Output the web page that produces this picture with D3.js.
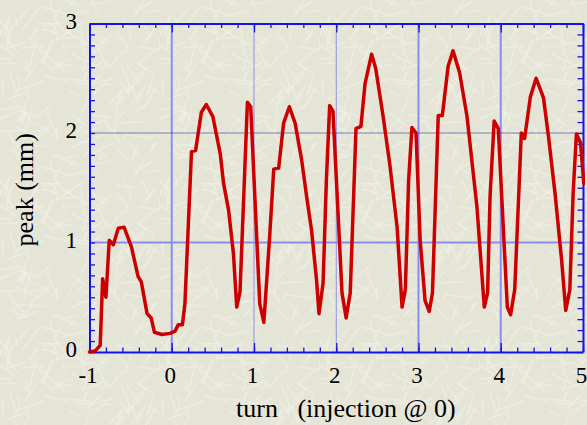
<!DOCTYPE html>
<html>
<head>
<meta charset="utf-8">
<script src="https://cdn.jsdelivr.net/npm/d3@7"></script>
<style>
  html, body { margin: 0; padding: 0; background: #e4e4d5; }
  svg { display: block; }
  text { font-family: "Liberation Serif", "Times New Roman", serif; fill: #000; }
</style>
</head>
<body>
<svg id="chart" width="587" height="425"></svg>
<script>
// data
const turn = [-1.00, -0.93, -0.87, -0.84, -0.80, -0.76, -0.71, -0.65, -0.58, -0.49,
  -0.41, -0.37, -0.30, -0.25, -0.21, -0.12, -0.02, 0.04, 0.08, 0.13,
  0.16, 0.24, 0.29, 0.36, 0.42, 0.50, 0.59, 0.63, 0.69, 0.75,
  0.79, 0.83, 0.92, 0.96, 1.07, 1.12, 1.19, 1.24, 1.30, 1.36,
  1.43, 1.50, 1.58, 1.64, 1.70, 1.76, 1.79, 1.84, 1.88, 1.92,
  1.96, 2.07, 2.12, 2.17, 2.24, 2.30, 2.35, 2.43, 2.48, 2.57,
  2.65, 2.74, 2.80, 2.84, 2.88, 2.92, 2.97, 3.02, 3.08, 3.13,
  3.17, 3.24, 3.29, 3.36, 3.42, 3.50, 3.59, 3.71, 3.80, 3.84,
  3.87, 3.92, 3.97, 4.08, 4.12, 4.17, 4.25, 4.29, 4.36, 4.43,
  4.52, 4.58, 4.66, 4.74, 4.79, 4.84, 4.88, 4.92, 4.97, 5.01];
const peak = [0.00, 0.01, 0.06, 0.67, 0.50, 1.02, 0.98, 1.13, 1.14, 0.96,
  0.69, 0.64, 0.35, 0.31, 0.18, 0.16, 0.17, 0.19, 0.25, 0.25,
  0.44, 1.83, 1.84, 2.19, 2.26, 2.15, 1.81, 1.54, 1.30, 0.90,
  0.41, 0.55, 2.28, 2.24, 0.44, 0.27, 1.05, 1.67, 1.68, 2.09,
  2.24, 2.09, 1.75, 1.42, 1.11, 0.66, 0.35, 0.63, 1.57, 2.25,
  2.20, 0.54, 0.31, 0.54, 2.04, 2.06, 2.45, 2.72, 2.59, 2.15,
  1.72, 1.14, 0.41, 0.57, 1.57, 2.05, 2.00, 1.02, 0.47, 0.37,
  0.54, 2.16, 2.16, 2.61, 2.75, 2.55, 2.15, 1.33, 0.41, 0.54,
  1.42, 2.11, 2.04, 0.41, 0.34, 0.57, 2.00, 1.95, 2.33, 2.50,
  2.32, 1.97, 1.45, 0.84, 0.38, 0.57, 1.45, 1.99, 1.91, 1.54];

const xTicks = [-1, 0, 1, 2, 3, 4, 5];
const yTicks = [0, 1, 2, 3];
const xTitle = 'turn   (injection @ 0)';
const yTitle = 'peak (mm)';

const svg = d3.select('#chart');
const axisColor = '#1414e6';

const x = d3.scaleLinear().domain([-1, 5]).range([89.5, 583]);
const y = d3.scaleLinear().domain([0, 3]).range([352, 23.5]);

//Paper texture background (fixed streak pattern, not data)
function h(n) {
  const s = Math.sin(n * 12.9898 + 78.233) * 43758.5453;
  return s - Math.floor(s);
}

const pat = svg.append('defs').append('pattern')
  .attr('id', 'paper')
  .attr('patternUnits', 'userSpaceOnUse')
  .attr('width', 160)
  .attr('height', 160);

pat.append('rect')
  .attr('width', 160)
  .attr('height', 160)
  .attr('fill', '#e5e5d7');

for (let i = 0; i < 170; i++) {
  const cx = h(i * 4) * 160;
  const cy = h(i * 4 + 1) * 160;
  const a = h(i * 4 + 2) * Math.PI;
  const len = 6 + h(i * 4 + 3) * 22;
  pat.append('line')
    .attr('x1', cx - Math.cos(a) * len / 2)
    .attr('y1', cy - Math.sin(a) * len / 2)
    .attr('x2', cx + Math.cos(a) * len / 2)
    .attr('y2', cy + Math.sin(a) * len / 2)
    .attr('stroke', '#f0f0e6')
    .attr('stroke-width', 1.5)
    .attr('stroke-linecap', 'round')
    .attr('opacity', 0.6);
}

svg.append('rect')
  .attr('width', 587)
  .attr('height', 425)
  .attr('fill', 'url(#paper)');

svg.select('defs').append('clipPath')
  .attr('id', 'plot-clip')
  .append('rect')
  .attr('x', 87)
  .attr('y', 20)
  .attr('width', 498)
  .attr('height', 336);

//Grid lines
const grid = svg.append('g').attr('id', 'grid');

[0, 3, 4].forEach(v => {
  grid.append('line')
    .attr('x1', x(v)).attr('x2', x(v))
    .attr('y1', y(3)).attr('y2', y(0))
    .attr('stroke', '#8c8cf0')
    .attr('stroke-width', 2);
});

[1, 2].forEach(v => {
  grid.append('line')
    .attr('x1', x(v)).attr('x2', x(v))
    .attr('y1', y(3)).attr('y2', y(0))
    .attr('stroke', '#3a3aee')
    .attr('stroke-width', 1)
    .attr('stroke-dasharray', '1,1');
});

grid.append('line')
  .attr('x1', x(-1)).attr('x2', x(5))
  .attr('y1', y(1)).attr('y2', y(1))
  .attr('stroke', '#8c8cf0')
  .attr('stroke-width', 2);

grid.append('line')
  .attr('x1', x(-1)).attr('x2', x(5))
  .attr('y1', y(2)).attr('y2', y(2))
  .attr('stroke', '#14148a')
  .attr('stroke-width', 1)
  .attr('stroke-dasharray', '1,1');

//Axes with inward ticks
const minorX = d3.range(-1, 5.001, 0.2);
const minorY = d3.range(0, 3.001, 0.1);

function styleAxis(g) {
  g.selectAll('path, line').attr('stroke', axisColor);
  g.select('.domain').attr('stroke-width', 2);
  g.selectAll('.tick line').attr('stroke-width', 1.3);
}

svg.append('g')
  .attr('transform', `translate(0,${y(0)})`)
  .call(d3.axisBottom(x).tickValues(minorX).tickSize(-4.5).tickSizeOuter(0).tickFormat(''))
  .call(styleAxis);

svg.append('g')
  .attr('transform', `translate(0,${y(3)})`)
  .call(d3.axisTop(x).tickValues(minorX).tickSize(-4.5).tickSizeOuter(0).tickFormat(''))
  .call(styleAxis);

svg.append('g')
  .attr('transform', `translate(${x(-1)},0)`)
  .call(d3.axisLeft(y).tickValues(minorY).tickSize(-5.5).tickSizeOuter(0).tickFormat(''))
  .call(styleAxis);

svg.append('g')
  .attr('transform', `translate(${x(5)},0)`)
  .call(d3.axisRight(y).tickValues(minorY).tickSize(-5.5).tickSizeOuter(0).tickFormat(''))
  .call(styleAxis);

// major ticks and labels
const bottomAxis = svg.append('g')
  .attr('transform', `translate(-2,${y(0)})`)
  .call(d3.axisBottom(x).tickValues(xTicks).tickSize(-9).tickSizeOuter(0).tickPadding(17).tickFormat(d => String(d)))
  .call(styleAxis);
bottomAxis.select('.domain').remove();
bottomAxis.selectAll('.tick line').attr('transform', 'translate(2,0)');
bottomAxis.selectAll('text').attr('font-size', 23).attr('font-family', 'Liberation Serif').attr('dy', '0.62em');

svg.append('g')
  .attr('transform', `translate(0,${y(3)})`)
  .call(d3.axisTop(x).tickValues(xTicks).tickSize(-9).tickSizeOuter(0).tickFormat(''))
  .call(styleAxis)
  .select('.domain').remove();

const leftAxis = svg.append('g')
  .attr('transform', `translate(${x(-1)},-2)`)
  .call(d3.axisLeft(y).tickValues(yTicks).tickSize(0).tickSizeOuter(0).tickPadding(12.5).tickFormat(d => String(d)));
leftAxis.select('.domain').remove();
leftAxis.selectAll('text').attr('font-size', 23).attr('font-family', 'Liberation Serif').attr('dy', '0.3em');

//Axis titles
svg.append('text')
  .attr('x', 236)
  .attr('y', 417)
  .attr('font-size', 26)
  .style('white-space', 'pre')
  .text(xTitle);

svg.append('text')
  .attr('transform', `translate(33,${y(1.5) + 2}) rotate(-90)`)
  .attr('text-anchor', 'middle')
  .attr('font-size', 26)
  .text(yTitle);

//Red data line
const line = d3.line()
  .x((d, i) => x(turn[i]))
  .y(d => y(d));

svg.append('path')
  .datum(peak)
  .attr('clip-path', 'url(#plot-clip)')
  .attr('d', line)
  .attr('fill', 'none')
  .attr('stroke', '#cc0000')
  .attr('stroke-width', 3.5)
  .attr('stroke-linejoin', 'round')
  .attr('stroke-linecap', 'round');
</script>
</body>
</html>
